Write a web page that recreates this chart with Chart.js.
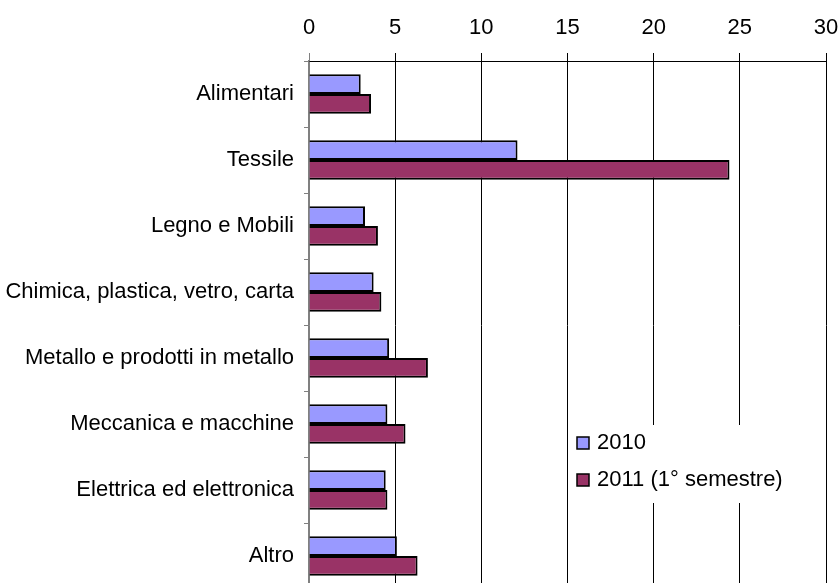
<!DOCTYPE html>
<html>
<head>
<meta charset="utf-8">
<script src="https://cdn.jsdelivr.net/npm/chart.js@4/dist/chart.umd.min.js"></script>
<style>
  html, body { margin:0; padding:0; background:#fff; overflow:hidden; }
</style>
</head>
<body>
<canvas id="c" width="839" height="590"></canvas>
<script>
const categories = [
  'Alimentari',
  'Tessile',
  'Legno e Mobili',
  'Chimica, plastica, vetro, carta',
  'Metallo e prodotti in metallo',
  'Meccanica e macchine',
  'Elettrica ed elettronica',
  'Altro'
];
const series2010 = [3.0, 12.1, 3.25, 3.75, 4.65, 4.55, 4.45, 5.1];
const series2011 = [3.6, 24.4, 4.0, 4.2, 6.9, 5.6, 4.55, 6.3];
const seriesNames = ['2010', '2011 (1° semestre)'];
const xTicks = [0, 5, 10, 15, 20, 25, 30];

const FONT = 'Liberation Sans, Arial, sans-serif';

// legend drawn inside the plot, on a white patch over the gridlines
const insideLegend = {
  id: 'insideLegend',
  afterDraw(chart){
    const ctx = chart.ctx;
    ctx.save();
    ctx.fillStyle = '#fff';
    ctx.fillRect(572, 425, 224, 78);
    ctx.font = '22px ' + FONT;
    ctx.textBaseline = 'alphabetic';
    chart.data.datasets.forEach((ds, i) => {
      const y = 437 + i * 37;
      ctx.fillStyle = ds.backgroundColor;
      ctx.fillRect(577, y, 12, 12);
      ctx.strokeStyle = '#000';
      ctx.lineWidth = 1.5;
      ctx.strokeRect(577, y, 12, 12);
      ctx.fillStyle = '#000';
      ctx.fillText(ds.label, 597, y + 12);
    });
    ctx.restore();
  }
};

new Chart(document.getElementById('c'), {
  type: 'bar',
  data: {
    labels: categories,
    datasets: [
      { label: seriesNames[0], data: series2010, backgroundColor: '#9999FF', borderColor: '#000', borderWidth: 2,
        categoryPercentage: 0.6, barPercentage: 1 },
      { label: seriesNames[1], data: series2011, backgroundColor: '#993366', borderColor: '#000', borderWidth: 2,
        categoryPercentage: 0.6, barPercentage: 1 }
    ]
  },
  options: {
    indexAxis: 'y',
    responsive: false,
    animation: false,
    layout: { padding: { top: 0, right: 13, bottom: 1, left: 0 } },
    plugins: { legend: { display: false }, tooltip: { enabled: false } },
    scales: {
      x: {
        position: 'top',
        min: 0, max: 30,
        afterBuildTicks: s => { s.ticks = xTicks.map(v => ({ value: v })); },
        afterFit: s => { s.height = 61; s.paddingLeft = 0; s.paddingRight = 0; },
        ticks: { color: '#000', font: { family: FONT, size: 22 }, padding: 12, maxRotation: 0 },
        grid: { color: ctx => ctx.tick && ctx.tick.value === 0 ? '#808080' : '#000', lineWidth: 1, tickLength: 8 },
        border: { color: '#000', width: 1 }
      },
      y: {
        afterFit: s => { s.width = 309; s.paddingTop = 0; s.paddingBottom = 0; },
        ticks: { color: '#000', font: { family: FONT, size: 22 }, padding: 10 },
        grid: { drawOnChartArea: false, color: '#808080', tickLength: 5, offset: true },
        border: { color: '#808080', width: 1.5 }
      }
    }
  },
  plugins: [insideLegend]
});
</script>
</body>
</html>
